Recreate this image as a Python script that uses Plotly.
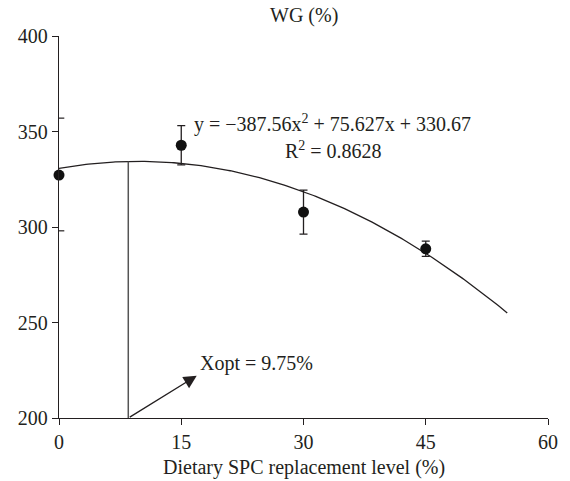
import numpy as np
import plotly.graph_objects as go

# Data
levels = [0, 15, 30, 45]
wg = [327.2, 342.8, 307.8, 288.6]
wg_err = [0.0, 10.3, 11.5, 4.0]
coef_a, coef_b, coef_c = -387.56, 75.627, 330.67   # y = a x^2 + b x + c (x as fraction)
fit_x_max = 55
xopt_line = 8.5
x_ticks = [0, 15, 30, 45, 60]
y_ticks = [200, 250, 300, 350, 400]
stray_ticks = [357, 298]

FONT = "Liberation Serif"
INK = "#231f20"
FS = 20

fit_x = np.linspace(0, fit_x_max, 200)
fit_y = coef_a * (fit_x / 100) ** 2 + coef_b * (fit_x / 100) + coef_c
xopt_y = coef_a * (xopt_line / 100) ** 2 + coef_b * (xopt_line / 100) + coef_c

fig = go.Figure()
fig.add_trace(go.Scatter(x=fit_x, y=fit_y, mode="lines",
                         line=dict(color=INK, width=1.3), hoverinfo="skip"))
fig.add_trace(go.Scatter(x=[xopt_line, xopt_line], y=[200, xopt_y], mode="lines",
                         line=dict(color="#555555", width=1.5), hoverinfo="skip"))
fig.add_trace(go.Scatter(x=levels, y=wg, mode="markers",
                         marker=dict(color="#111111", size=11),
                         error_y=dict(type="data", array=wg_err, color=INK,
                                      thickness=1.3, width=4),
                         cliponaxis=False))

for v in stray_ticks:
    fig.add_shape(type="line", xref="x", yref="y", x0=0, x1=0.65, y0=v, y1=v,
                  line=dict(color=INK, width=1.2))

fig.add_annotation(x=16.9, y=222.1, ax=xopt_line, ay=200, axref="x", ayref="y",
                   xref="x", yref="y", text="", showarrow=True,
                   arrowhead=2, arrowsize=2, arrowwidth=1.3, arrowcolor=INK,
                   standoff=0, startstandoff=0)
fig.add_annotation(x=17.1, y=228.3, xref="x", yref="y", text="Xopt = 9.75%",
                   showarrow=False, xanchor="left", yanchor="middle",
                   font=dict(family=FONT, size=FS, color=INK))
fig.add_annotation(x=33.6, y=354.4, xref="x", yref="y",
                   text="y = \u2212387.56x<sup>2</sup> + 75.627x + 330.67",
                   showarrow=False, xanchor="center", yanchor="middle",
                   font=dict(family=FONT, size=FS, color=INK))
fig.add_annotation(x=33.7, y=340.2, xref="x", yref="y",
                   text="R<sup>2</sup> = 0.8628",
                   showarrow=False, xanchor="center", yanchor="middle",
                   font=dict(family=FONT, size=FS, color=INK))
fig.add_annotation(x=0.5, y=(418.3 - 15) / 382.3, xref="paper", yref="paper",
                   text="WG (%)", showarrow=False, xanchor="center", yanchor="middle",
                   font=dict(family=FONT, size=FS, color=INK))
fig.add_annotation(x=0.5, y=(418.3 - 468) / 382.3, xref="paper", yref="paper",
                   text="Dietary SPC replacement level (%)", showarrow=False,
                   xanchor="center", yanchor="middle",
                   font=dict(family=FONT, size=FS, color=INK))

axis_common = dict(showgrid=False, zeroline=False, showline=True, linecolor=INK,
                   linewidth=1.3, ticks="outside", ticklen=6, tickwidth=1.2,
                   tickcolor=INK, tickfont=dict(family=FONT, size=FS, color=INK),
                   mirror=False)
fig.update_xaxes(range=[0, 60], tickvals=x_ticks, **axis_common)
fig.update_yaxes(range=[200, 400], tickvals=y_ticks, **axis_common)

fig.update_layout(width=570, height=481, showlegend=False,
                  margin=dict(l=59, r=11.5, t=36, b=62.7, pad=0),
                  plot_bgcolor="white", paper_bgcolor="white",
                  font=dict(family=FONT, size=FS, color=INK))

fig.write_html("out.html")
